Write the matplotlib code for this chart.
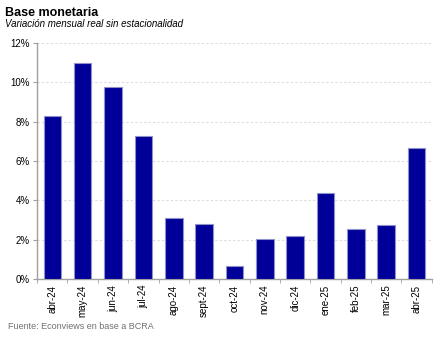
import numpy as np
from matplotlib import pyplot as plt

plt.rcParams['font.family'] = ['Liberation Sans', 'DejaVu Sans']

meses = ['abr-24', 'may-24', 'jun-24', 'jul-24', 'ago-24', 'sept-24', 'oct-24',
         'nov-24', 'dic-24', 'ene-25', 'feb-25', 'mar-25', 'abr-25']
variacion = [8.3, 11.0, 9.75, 7.25, 3.1, 2.8, 0.68, 2.05, 2.2, 4.37, 2.54, 2.76, 6.64]
y_ticks = [0, 2, 4, 6, 8, 10, 12]

fig = plt.figure(figsize=(4.42, 3.4), dpi=100)
ax = fig.add_axes([0.084, 0.179, 0.893, 0.695])

x = np.arange(len(meses))
ax.bar(x, variacion, width=0.58, color='#000099', edgecolor='#9090cc', linewidth=0.8, zorder=3)

ax.set_xlim(-0.5, len(meses) - 0.5)
ax.set_ylim(0, 12)
ax.set_yticks(y_ticks)
ax.set_yticklabels([f'{v}%' for v in y_ticks], fontsize=7)
ax.yaxis.grid(True, linestyle=(0, (2, 2)), color='#dcdcdc', linewidth=0.8, zorder=0)

# etiquetas en el centro, marcas entre categorias
ax.set_xticks(x)
ax.set_xticklabels(meses, rotation=90, fontsize=7)
ax.tick_params(axis='x', length=0, pad=4)
ax.set_xticks(np.arange(-0.5, len(meses)), minor=True)
ax.tick_params(axis='x', which='minor', length=3, color='#a0a0a0', direction='out')
ax.tick_params(axis='y', length=3, color='#a0a0a0', pad=2)

for s in ['top', 'right']:
    ax.spines[s].set_visible(False)
for s in ['left', 'bottom']:
    ax.spines[s].set_color('#a0a0a0')
    ax.spines[s].set_linewidth(1.0)

fig.text(0.011, 0.962, 'Base monetaria', fontsize=9, fontweight='bold', va='center')
fig.text(0.011, 0.928, 'Variación mensual real sin estacionalidad', fontsize=7,
         style='italic', va='center')
fig.text(0.018, 0.04, 'Fuente: Econviews en base a BCRA', fontsize=6.5,
         color='#707070', va='center')

plt.savefig('out.png', dpi=100)
